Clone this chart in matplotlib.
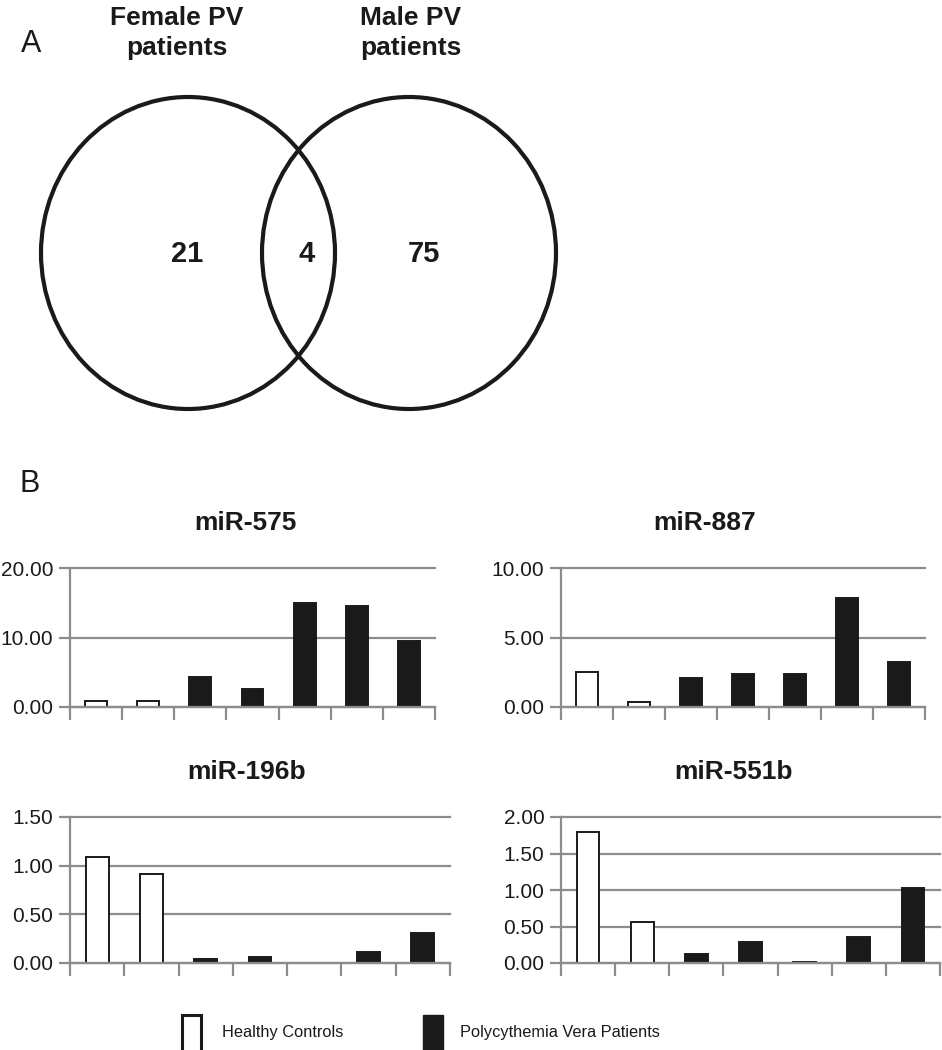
import matplotlib
matplotlib.use("Agg")
import matplotlib.pyplot as plt
from matplotlib.patches import Ellipse, Rectangle
from matplotlib import font_manager

# ---------------- data ----------------
venn_labels = ["Female PV\npatients", "Male PV\npatients"]
venn_counts = ["21", "4", "75"]

titles = ["miR-575", "miR-887", "miR-196b", "miR-551b"]
mir575 = [0.85, 0.85, 4.3, 2.6, 15.0, 14.5, 9.5]
mir887 = [2.55, 0.35, 2.12, 2.40, 2.36, 7.82, 3.22]
mir196b = [1.09, 0.91, 0.04, 0.06, 0.0, 0.11, 0.31]
mir551b = [1.80, 0.56, 0.12, 0.29, 0.02, 0.36, 1.03]
groups = ["Healthy", "Healthy", "PV", "PV", "PV", "PV", "PV"]
yticks_list = [[0, 10, 20], [0, 5, 10], [0, 0.5, 1.0, 1.5], [0, 0.5, 1.0, 1.5, 2.0]]
legend_labels = ["Healthy Controls", "Polycythemia Vera Patients"]

# ---------------- style ----------------
names = {f.name for f in font_manager.fontManager.ttflist}
BASE = "Liberation Sans" if "Liberation Sans" in names else "DejaVu Sans"
NARROW = "Liberation Sans Narrow" if "Liberation Sans Narrow" in names else None
plt.rcParams["font.family"] = [BASE, "DejaVu Sans"]

W, H = 942, 1050
fig = plt.figure(figsize=(W / 100, H / 100), dpi=100)

GRAY = "#8c8c8c"
BLACK = "#1a1a1a"


def fx(x):
    return x / W


def fy(y):
    return 1 - y / H


# background axes in pixel coords for Venn and labels
bg = fig.add_axes([0, 0, 1, 1])
bg.set_xlim(0, W)
bg.set_ylim(H, 0)
bg.axis("off")

# Venn diagram
for cx in (188, 409):
    bg.add_patch(Ellipse((cx, 253), 294, 312, fill=False, lw=3.0, ec=BLACK))
bg.text(177, 33, venn_labels[0], ha="center", va="center", fontsize=19,
        fontweight="bold", linespacing=1.3, color=BLACK)
bg.text(411, 33, venn_labels[1], ha="center", va="center", fontsize=19,
        fontweight="bold", linespacing=1.3, color=BLACK)
for x, t in zip((187, 307, 424), venn_counts):
    bg.text(x, 254, t, ha="center", va="center", fontsize=21,
            fontweight="bold", color=BLACK)

bg.text(31, 44, "A", ha="center", va="center", fontsize=22, color=BLACK)
bg.text(30, 484, "B", ha="center", va="center", fontsize=22, color=BLACK)

# ---------------- bar charts ----------------
# (left, right, top, bottom) in pixels
rects = [(70, 435, 568, 707), (561, 925, 568, 707),
         (70, 450, 817, 963), (561, 940, 817, 963)]
title_pos = [(245, 523), (705, 523), (247, 772), (733, 772)]
datasets = [mir575, mir887, mir196b, mir551b]

for (l, r, t, b), vals, ticks, title, (tx, ty) in zip(
        rects, datasets, yticks_list, titles, title_pos):
    ax = fig.add_axes([fx(l), fy(b), fx(r) - fx(l), (b - t) / H])
    n = len(vals)
    xs = [i + 0.5 for i in range(n)]
    faces = ["white" if g == "Healthy" else BLACK for g in groups]
    ax.bar(xs, vals, width=0.42, color=faces, edgecolor=BLACK,
           linewidth=1.4, zorder=3)
    ax.set_xlim(0, n)
    ax.set_ylim(0, ticks[-1])
    ax.set_yticks(ticks)
    ax.set_yticklabels([f"{v:.2f}" for v in ticks])
    ax.set_xticks(range(n + 1))
    ax.set_xticklabels([])
    for s in ("top", "right"):
        ax.spines[s].set_visible(False)
    for s in ("left", "bottom"):
        ax.spines[s].set_color(GRAY)
        ax.spines[s].set_linewidth(1.6)
        ax.spines[s].set_zorder(4)
    ax.tick_params(axis="y", length=8, width=1.6, color=GRAY, pad=4,
                   labelsize=15, labelcolor=BLACK)
    ax.tick_params(axis="x", length=9, width=1.6, color=GRAY)
    ax.grid(axis="y", color=GRAY, linewidth=1.6, zorder=1)
    ax.set_axisbelow(True)
    for ln in ax.get_ygridlines():
        ln.set_clip_on(False)
    ax.patch.set_alpha(0)
    bg.text(tx, ty, title, ha="center", va="center", fontsize=19,
            fontweight="bold", color=BLACK)

# ---------------- legend ----------------
bg.add_patch(Rectangle((182, 1015), 19, 40, fc="white", ec=BLACK, lw=2.2,
                       clip_on=False))
bg.add_patch(Rectangle((423, 1015), 20, 40, fc=BLACK, ec=BLACK, lw=1.0,
                       clip_on=False))
if NARROW:
    lfam, lsize = [NARROW, BASE], 13.5
else:
    lfam, lsize = [BASE], 11.8
bg.text(222, 1032, legend_labels[0], ha="left", va="center", fontsize=lsize,
        family=lfam, color=BLACK)
bg.text(460, 1032, legend_labels[1], ha="left", va="center", fontsize=lsize,
        family=lfam, color=BLACK)

fig.savefig("out.png", dpi=100)
